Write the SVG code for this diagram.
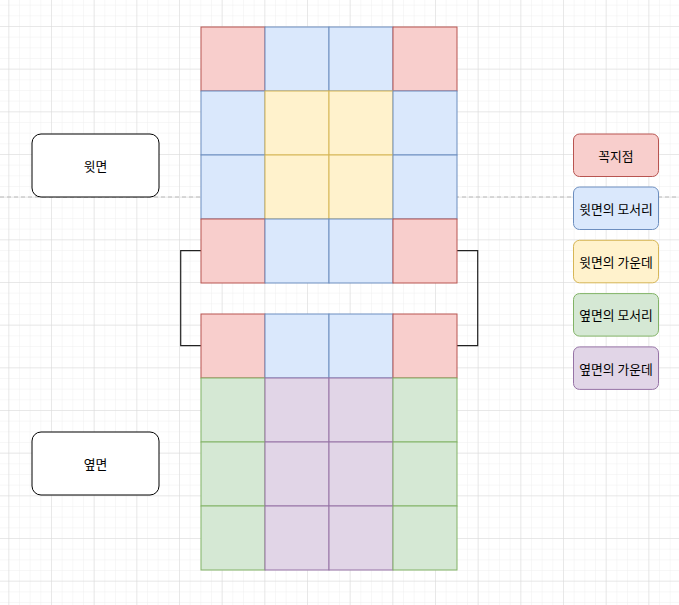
<svg xmlns="http://www.w3.org/2000/svg" width="679" height="605" viewBox="0 0 679 605">
<style>
text{font-family:"Noto Sans CJK KR","Liberation Sans",sans-serif;font-size:12.8px;fill:#000;text-anchor:middle;dominant-baseline:central}
.r{fill:#f8cecc;stroke:#b85450}
.b{fill:#dae8fc;stroke:#6c8ebf}
.y{fill:#fff2cc;stroke:#d6b656}
.g{fill:#d5e8d4;stroke:#82b366}
.p{fill:#e1d5e7;stroke:#9673a6}
.lbl{fill:#fff;stroke:#000}
.conn{fill:none;stroke:#222;stroke-width:1.2}
</style>
<defs>
<pattern id="minor" patternUnits="userSpaceOnUse" x="8.33" y="26" width="10.667" height="10.667">
<path d="M0 0H10.667M0 0V10.667" fill="none" stroke="#f0f0f0" stroke-width="1"/>
</pattern>
<pattern id="major" patternUnits="userSpaceOnUse" x="8.33" y="26" width="42.667" height="42.667">
<path d="M0 0H42.667M0 0V42.667" fill="none" stroke="#dadada" stroke-width="1"/>
</pattern>
</defs>
<rect width="679" height="605" fill="#fff"/>
<rect width="679" height="605" fill="url(#minor)"/>
<rect width="679" height="605" fill="url(#major)"/>
<line id="divider" x1="0" y1="197" x2="679" y2="197" stroke="#bbb" stroke-dasharray="4 3"/>
<g id="connectors">
<path class="conn" d="M201 250.7H180.7V345.7H201"/>
<path class="conn" d="M457 250.7H477.7V345.7H457"/>
</g>
<g id="top-face">
<rect class="r" x="201" y="27" width="64" height="64"/>
<rect class="b" x="265" y="27" width="64" height="64"/>
<rect class="b" x="329" y="27" width="64" height="64"/>
<rect class="r" x="393" y="27" width="64" height="64"/>
<rect class="b" x="201" y="91" width="64" height="64"/>
<rect class="y" x="265" y="91" width="64" height="64"/>
<rect class="y" x="329" y="91" width="64" height="64"/>
<rect class="b" x="393" y="91" width="64" height="64"/>
<rect class="b" x="201" y="155" width="64" height="64"/>
<rect class="y" x="265" y="155" width="64" height="64"/>
<rect class="y" x="329" y="155" width="64" height="64"/>
<rect class="b" x="393" y="155" width="64" height="64"/>
<rect class="r" x="201" y="219" width="64" height="64"/>
<rect class="b" x="265" y="219" width="64" height="64"/>
<rect class="b" x="329" y="219" width="64" height="64"/>
<rect class="r" x="393" y="219" width="64" height="64"/>
</g>
<g id="side-face">
<rect class="r" x="201" y="314" width="64" height="64"/>
<rect class="b" x="265" y="314" width="64" height="64"/>
<rect class="b" x="329" y="314" width="64" height="64"/>
<rect class="r" x="393" y="314" width="64" height="64"/>
<rect class="g" x="201" y="378" width="64" height="64"/>
<rect class="p" x="265" y="378" width="64" height="64"/>
<rect class="p" x="329" y="378" width="64" height="64"/>
<rect class="g" x="393" y="378" width="64" height="64"/>
<rect class="g" x="201" y="442" width="64" height="64"/>
<rect class="p" x="265" y="442" width="64" height="64"/>
<rect class="p" x="329" y="442" width="64" height="64"/>
<rect class="g" x="393" y="442" width="64" height="64"/>
<rect class="g" x="201" y="506" width="64" height="64"/>
<rect class="p" x="265" y="506" width="64" height="64"/>
<rect class="p" x="329" y="506" width="64" height="64"/>
<rect class="g" x="393" y="506" width="64" height="64"/>
</g>
<g id="label-top">
<rect class="lbl" x="32" y="134" width="127" height="63" rx="9"/>
<text x="95.5" y="165.5">윗면</text>
</g>
<g id="label-side">
<rect class="lbl" x="32" y="432" width="127" height="63" rx="9"/>
<text x="95.5" y="463.5">옆면</text>
</g>
<g id="legend-vertex">
<rect class="r" x="573.5" y="134" width="85" height="42.5" rx="6"/>
<text x="616" y="155.2">꼭지점</text>
</g>
<g id="legend-top-edge">
<rect class="b" x="573.5" y="187" width="85" height="42.5" rx="6"/>
<text x="616" y="208.2">윗면의 모서리</text>
</g>
<g id="legend-top-center">
<rect class="y" x="573.5" y="240.3" width="85" height="42.5" rx="6"/>
<text x="616" y="261.5">윗면의 가운데</text>
</g>
<g id="legend-side-edge">
<rect class="g" x="573.5" y="293.6" width="85" height="42.5" rx="6"/>
<text x="616" y="314.8">옆면의 모서리</text>
</g>
<g id="legend-side-center">
<rect class="p" x="573.5" y="346.9" width="85" height="42.5" rx="6"/>
<text x="616" y="368.1">옆면의 가운데</text>
</g>
</svg>
